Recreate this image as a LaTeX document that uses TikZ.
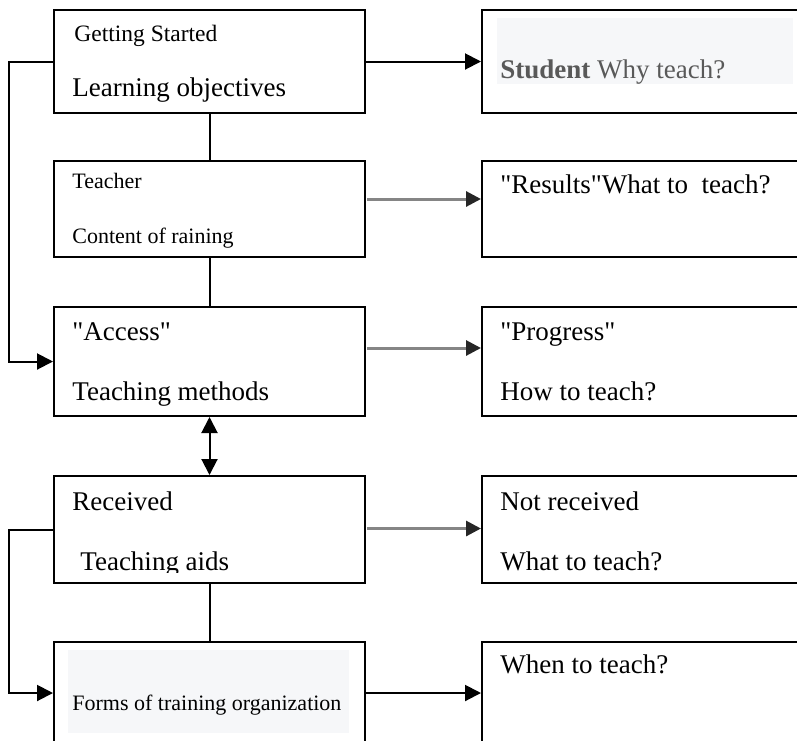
\documentclass[tikz,border=0pt]{standalone}
\usepackage{fontspec}
\setmainfont{Liberation Serif}
\usepackage{xcolor}
\usetikzlibrary{arrows.meta}
\definecolor{panelbg}{HTML}{F6F7F9}
\definecolor{greytext}{HTML}{595959}
\definecolor{greyline}{HTML}{858585}
\newcommand{\straightq}{\textquotedbl}
\tikzset{
  box/.style={draw,line width=1pt,rectangle,inner sep=0pt,anchor=north west},
  lbox/.style={box,minimum width=155.5pt},
  rbox/.style={box,minimum width=180pt},
  txt/.style={anchor=base west,inner sep=0pt},
  bigtxt/.style={txt,font=\fontsize{13.5}{16}\selectfont},
  midtxt/.style={txt,font=\fontsize{11.75}{14}\selectfont},
  smalltxt/.style={txt,font=\fontsize{11}{13}\selectfont},
  conn/.style={line width=1pt,>={Triangle[length=8pt,width=8pt]}},
  greyconn/.style={line width=1.5pt,greyline,>={Triangle[length=7.5pt,width=7.5pt,color=black!85]}}
}
\begin{document}
\begin{tikzpicture}[x=0.5pt,y=-0.5pt]
\useasboundingbox (0,0) rectangle (797,740);
\clip (0,0) rectangle (797,740);
% left column
\node[lbox,minimum height=51.5pt] (obj) at (53,9) {};
\node[lbox,minimum height=48pt] (cont) at (53,160) {};
\node[lbox,minimum height=54.5pt] (meth) at (53,306) {};
\node[lbox,minimum height=53.5pt] (aids) at (53,475) {};
\node[lbox,minimum height=51pt] (forms) at (53,641) {};
% right column
\node[rbox,minimum height=51.5pt] (why) at (481,9) {};
\node[rbox,minimum height=48pt] (what) at (481,160) {};
\node[rbox,minimum height=54.5pt] (how) at (481,306) {};
\node[rbox,minimum height=53.5pt] (notrec) at (481,475) {};
\node[rbox,minimum height=51pt] (when) at (481,641) {};
% shaded backgrounds
\fill[panelbg] (497,18) rectangle (793,84);
\fill[panelbg] (68,650) rectangle (349,733);
% texts
\node[midtxt] (start) at (74,41) {Getting Started};
\node[bigtxt] (objtxt) at (72,96) {Learning objectives};
\node[smalltxt] (teacher) at (72,188) {Teacher};
\node[smalltxt] (conttxt) at (72,243) {Content of raining};
\node[bigtxt] (access) at (72,340) {\straightq Access\straightq};
\node[bigtxt] (methtxt) at (72,400) {Teaching methods};
\node[bigtxt] (received) at (72,510) {Received};
\begin{scope}
\clip (53,475) rectangle (364,572);
\node[bigtxt] (aidstxt) at (80,570) {Teaching aids};
\end{scope}
\node[smalltxt] (formstxt) at (72,710) {Forms of training organization};
\node[bigtxt,text=greytext] (whytxt) at (500,78) {\textbf{Student} Why teach?};
\node[bigtxt] (results) at (500,193) {\straightq Results\straightq What to\ \ teach?};
\node[bigtxt] (progress) at (500,340) {\straightq Progress\straightq};
\node[bigtxt] (howtxt) at (500,400) {How to teach?};
\node[bigtxt] (notrectxt) at (500,510) {Not received};
\node[bigtxt] (whattxt) at (500,570) {What to teach?};
\node[bigtxt] (whentxt) at (500,673) {When to teach?};
% connectors
\draw[conn] (obj.south) -- (cont.north);
\draw[conn] (cont.south) -- (meth.north);
\draw[conn] (aids.south) -- (forms.north);
\draw[conn,<->] (meth.south) -- (aids.north);
\draw[conn,->] (obj.west) -- ++(-44,0) |- (meth.west);
\draw[conn,->] (aids.west) -- ++(-44,0) |- (forms.west);
\draw[conn,->] (obj.east) -- (why.west);
\draw[conn,->] (forms.east) -- (when.west);
\coordinate (g2) at (367,199);
\coordinate (g3) at (367,348);
\coordinate (g4) at (367,528.5);
\draw[greyconn,->] (g2) -- (g2 -| what.west);
\draw[greyconn,->] (g3) -- (g3 -| how.west);
\draw[greyconn,->] (g4) -- (g4 -| notrec.west);
\end{tikzpicture}
\end{document}
